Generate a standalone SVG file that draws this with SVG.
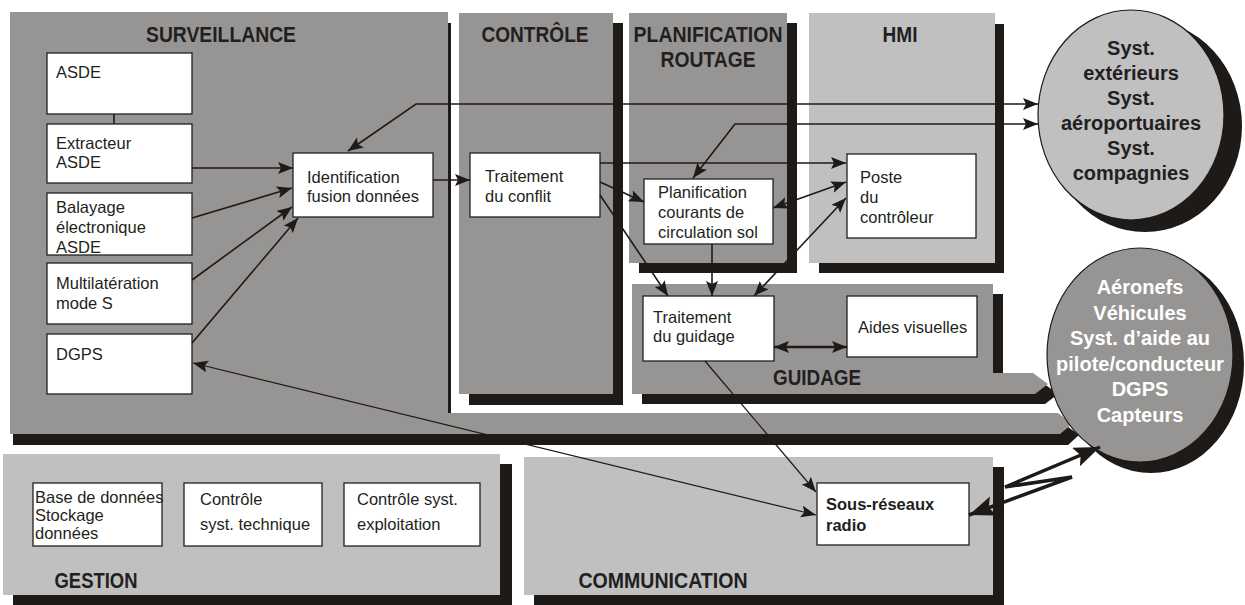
<svg xmlns="http://www.w3.org/2000/svg" width="1245" height="605" viewBox="0 0 1245 605">
  <style>
    .shadow { fill: #1e1a18; }
    .dark { fill: #969594; }
    .light { fill: #c0c0c0; }
    .box { fill: #ffffff; stroke: #231f20; stroke-width: 1.3; }
    .t { font-family: "Liberation Sans", Arial, sans-serif; font-size: 16.5px; fill: #231f20; }
    .tb { font-family: "Liberation Sans", Arial, sans-serif; font-size: 16.5px; font-weight: bold; fill: #231f20; }
    .title { font-family: "Liberation Sans", Arial, sans-serif; font-size: 21.5px; font-weight: bold; fill: #231f20; text-anchor: middle; }
    .ct { font-family: "Liberation Sans", Arial, sans-serif; font-size: 20px; font-weight: bold; text-anchor: middle; }
    .ln { fill: none; stroke: #1e1a18; stroke-width: 1.6; }
    .thin { fill: none; stroke: #1e1a18; stroke-width: 1.2; }
    .thick { fill: none; stroke: #1e1a18; stroke-width: 2.4; }
    .bolt { fill: none; stroke: #1e1a18; stroke-width: 3.5; stroke-linejoin: miter; }
  </style>
  <defs>
    <marker id="arr" markerUnits="userSpaceOnUse" markerWidth="18" markerHeight="14" refX="15" refY="6" orient="auto-start-reverse">
      <path d="M0,0 L15,6 L0,12 L3,6 Z" fill="#1e1a18"/>
    </marker>
    <marker id="arrBig" markerUnits="userSpaceOnUse" markerWidth="30" markerHeight="24" refX="26" refY="10" orient="auto-start-reverse">
      <path d="M0,0 L26,10 L0,20 L5,10 Z" fill="#1e1a18"/>
    </marker>
  </defs>

  <!-- Surveillance block with its wide output arrow -->
  <g id="surveillance">
    <polygon class="shadow" points="13,23 451,23 451,424 1064,424 1079,435 1068,445 13,445"/>
    <polygon class="dark" points="10,12 448,12 448,413 1058,413 1072,424 1060,434 10,434"/>
    <text class="title" x="221" y="42" textLength="150" lengthAdjust="spacingAndGlyphs">SURVEILLANCE</text>
  </g>

  <g id="controle">
    <rect class="shadow" x="469" y="23" width="154" height="382"/>
    <rect class="dark" x="459" y="13" width="154" height="381"/>
    <text class="title" x="535" y="42" textLength="107" lengthAdjust="spacingAndGlyphs">CONTRÔLE</text>
  </g>

  <g id="planification">
    <rect class="shadow" x="639" y="23" width="158" height="250"/>
    <rect class="dark" x="629" y="13" width="158" height="250"/>
    <text class="title" x="708" y="42" textLength="149" lengthAdjust="spacingAndGlyphs">PLANIFICATION</text>
    <text class="title" x="708" y="67" textLength="95" lengthAdjust="spacingAndGlyphs">ROUTAGE</text>
  </g>

  <g id="hmi">
    <rect class="shadow" x="819" y="24" width="185" height="249"/>
    <rect class="light" x="809" y="13" width="186" height="250"/>
    <text class="title" x="900" y="42" textLength="35" lengthAdjust="spacingAndGlyphs">HMI</text>
  </g>

  <!-- Guidage block with its wide output arrow -->
  <g id="guidage">
    <polygon class="shadow" points="642,294 1003,294 1003,383 1043,383 1058,394 1045,404 642,404"/>
    <polygon class="dark" points="632,284 993,284 993,373 1033,373 1048,384 1035,394 632,394"/>
    <text class="title" x="817" y="385" textLength="88" lengthAdjust="spacingAndGlyphs">GUIDAGE</text>
  </g>

  <g id="gestion">
    <rect class="shadow" x="13" y="464" width="499" height="141"/>
    <rect class="light" x="3" y="454" width="497" height="141"/>
    <text class="title" x="96" y="588" textLength="83" lengthAdjust="spacingAndGlyphs">GESTION</text>
  </g>

  <g id="communication">
    <rect class="shadow" x="534" y="467" width="470" height="138"/>
    <rect class="light" x="524" y="457" width="469" height="138"/>
    <text class="title" x="663" y="588" textLength="169" lengthAdjust="spacingAndGlyphs">COMMUNICATION</text>
  </g>

  <!-- External systems -->
  <g id="systemes-exterieurs">
    <ellipse class="shadow" cx="1145" cy="126" rx="97" ry="106"/>
    <ellipse cx="1131" cy="115" rx="93" ry="105" fill="#c0c0c0" stroke="#1e1a18" stroke-width="1.2"/>
    <text class="ct" fill="#231f20" x="1131" y="55">Syst.</text>
    <text class="ct" fill="#231f20" x="1131" y="80">extérieurs</text>
    <text class="ct" fill="#231f20" x="1131" y="105">Syst.</text>
    <text class="ct" fill="#231f20" x="1131" y="130">aéroportuaires</text>
    <text class="ct" fill="#231f20" x="1131" y="155">Syst.</text>
    <text class="ct" fill="#231f20" x="1131" y="180">compagnies</text>
  </g>

  <g id="aeronefs">
    <ellipse class="shadow" cx="1151" cy="364" rx="93" ry="109"/>
    <ellipse cx="1140" cy="355" rx="93" ry="107" fill="#969594" stroke="#1e1a18" stroke-width="1.2"/>
    <text class="ct" fill="#ffffff" x="1140" y="294">Aéronefs</text>
    <text class="ct" fill="#ffffff" x="1140" y="320">Véhicules</text>
    <text class="ct" fill="#ffffff" x="1140" y="345">Syst. d’aide au</text>
    <text class="ct" fill="#ffffff" x="1140" y="371">pilote/conducteur</text>
    <text class="ct" fill="#ffffff" x="1140" y="396">DGPS</text>
    <text class="ct" fill="#ffffff" x="1140" y="422">Capteurs</text>
  </g>

  <!-- Surveillance sources -->
  <g id="asde">
    <rect class="box" x="47" y="53" width="145" height="61"/>
    <text class="t" x="56" y="78">ASDE</text>
  </g>
  <g id="extracteur">
    <rect class="box" x="47" y="124" width="145" height="59"/>
    <text class="t" x="56" y="149">Extracteur</text>
    <text class="t" x="56" y="168">ASDE</text>
  </g>
  <g id="balayage">
    <rect class="box" x="47" y="193" width="145" height="62"/>
    <text class="t" x="56" y="213">Balayage</text>
    <text class="t" x="56" y="233">électronique</text>
    <text class="t" x="56" y="253">ASDE</text>
  </g>
  <g id="multilateration">
    <rect class="box" x="47" y="263" width="145" height="61"/>
    <text class="t" x="56" y="289">Multilatération</text>
    <text class="t" x="56" y="309">mode S</text>
  </g>
  <g id="dgps">
    <rect class="box" x="47" y="334" width="145" height="60"/>
    <text class="t" x="56" y="360">DGPS</text>
  </g>
  <g id="identification">
    <rect class="box" x="293" y="153" width="140" height="64"/>
    <text class="t" x="307" y="183">Identification</text>
    <text class="t" x="307" y="202">fusion données</text>
  </g>

  <g id="traitement-conflit">
    <rect class="box" x="470" y="153" width="130" height="64"/>
    <text class="t" x="485" y="182">Traitement</text>
    <text class="t" x="485" y="202">du conflit</text>
  </g>
  <g id="planification-courants">
    <rect class="box" x="644" y="179" width="129" height="65"/>
    <text class="t" x="658" y="198">Planification</text>
    <text class="t" x="658" y="218">courants de</text>
    <text class="t" x="658" y="238">circulation sol</text>
  </g>
  <g id="poste-controleur">
    <rect class="box" x="847" y="154" width="129" height="84"/>
    <text class="t" x="860" y="183">Poste</text>
    <text class="t" x="860" y="203">du</text>
    <text class="t" x="860" y="223">contrôleur</text>
  </g>
  <g id="traitement-guidage">
    <rect class="box" x="643" y="296" width="131" height="65"/>
    <text class="t" x="653" y="323">Traitement</text>
    <text class="t" x="653" y="342">du guidage</text>
  </g>
  <g id="aides-visuelles">
    <rect class="box" x="847" y="296" width="130" height="61"/>
    <text class="t" x="858" y="333">Aides visuelles</text>
  </g>

  <g id="base-donnees">
    <rect class="box" x="33" y="483" width="129" height="63"/>
    <text class="t" x="35" y="503">Base de données</text>
    <text class="t" x="35" y="521">Stockage</text>
    <text class="t" x="35" y="539">données</text>
  </g>
  <g id="controle-technique">
    <rect class="box" x="184" y="483" width="138" height="63"/>
    <text class="t" x="200" y="505">Contrôle</text>
    <text class="t" x="200" y="530">syst. technique</text>
  </g>
  <g id="controle-exploitation">
    <rect class="box" x="344" y="483" width="136" height="63"/>
    <text class="t" x="357" y="505">Contrôle syst.</text>
    <text class="t" x="357" y="530">exploitation</text>
  </g>
  <g id="sous-reseaux">
    <rect class="box" x="817" y="483" width="152" height="62" stroke-width="1.6"/>
    <text class="tb" x="826" y="510">Sous-réseaux</text>
    <text class="tb" x="826" y="531">radio</text>
  </g>

  <!-- Data flows -->
  <g id="connectors">
    <line class="ln" x1="114" y1="114" x2="114" y2="124"/>
    <line class="ln" x1="192" y1="168" x2="293" y2="168" marker-end="url(#arr)"/>
    <line class="ln" x1="192" y1="218" x2="292" y2="188" marker-end="url(#arr)"/>
    <line class="ln" x1="192" y1="280" x2="292" y2="207" marker-end="url(#arr)"/>
    <line class="ln" x1="192" y1="343" x2="298" y2="218" marker-end="url(#arr)"/>
    <polyline class="ln" points="348,151 416,104 1038,104" marker-start="url(#arr)" marker-end="url(#arr)"/>
    <polyline class="ln" points="693,178 735,124 1038,124" marker-start="url(#arr)" marker-end="url(#arr)"/>
    <line class="ln" x1="433" y1="180" x2="470" y2="180" marker-end="url(#arr)"/>
    <line class="ln" x1="600" y1="163" x2="846" y2="163" marker-end="url(#arr)"/>
    <line class="ln" x1="600" y1="182" x2="644" y2="202" marker-end="url(#arr)"/>
    <line class="ln" x1="600" y1="195" x2="668" y2="296" marker-end="url(#arr)"/>
    <line class="ln" x1="712" y1="244" x2="712" y2="296" marker-end="url(#arr)"/>
    <line class="ln" x1="773" y1="208" x2="846" y2="182" marker-start="url(#arr)" marker-end="url(#arr)"/>
    <line class="ln" x1="754" y1="296" x2="846" y2="198" marker-start="url(#arr)" marker-end="url(#arr)"/>
    <line class="thick" x1="774" y1="347" x2="847" y2="347" marker-start="url(#arr)" marker-end="url(#arr)"/>
    <line class="thin" x1="705" y1="361" x2="816" y2="492" marker-end="url(#arr)"/>
    <line class="thin" x1="193" y1="363" x2="816" y2="515" marker-start="url(#arr)" marker-end="url(#arr)"/>
    <polyline class="bolt" points="969,515 1072,477 1005,487 1100,447" marker-start="url(#arrBig)" marker-end="url(#arrBig)"/>
  </g>
</svg>
